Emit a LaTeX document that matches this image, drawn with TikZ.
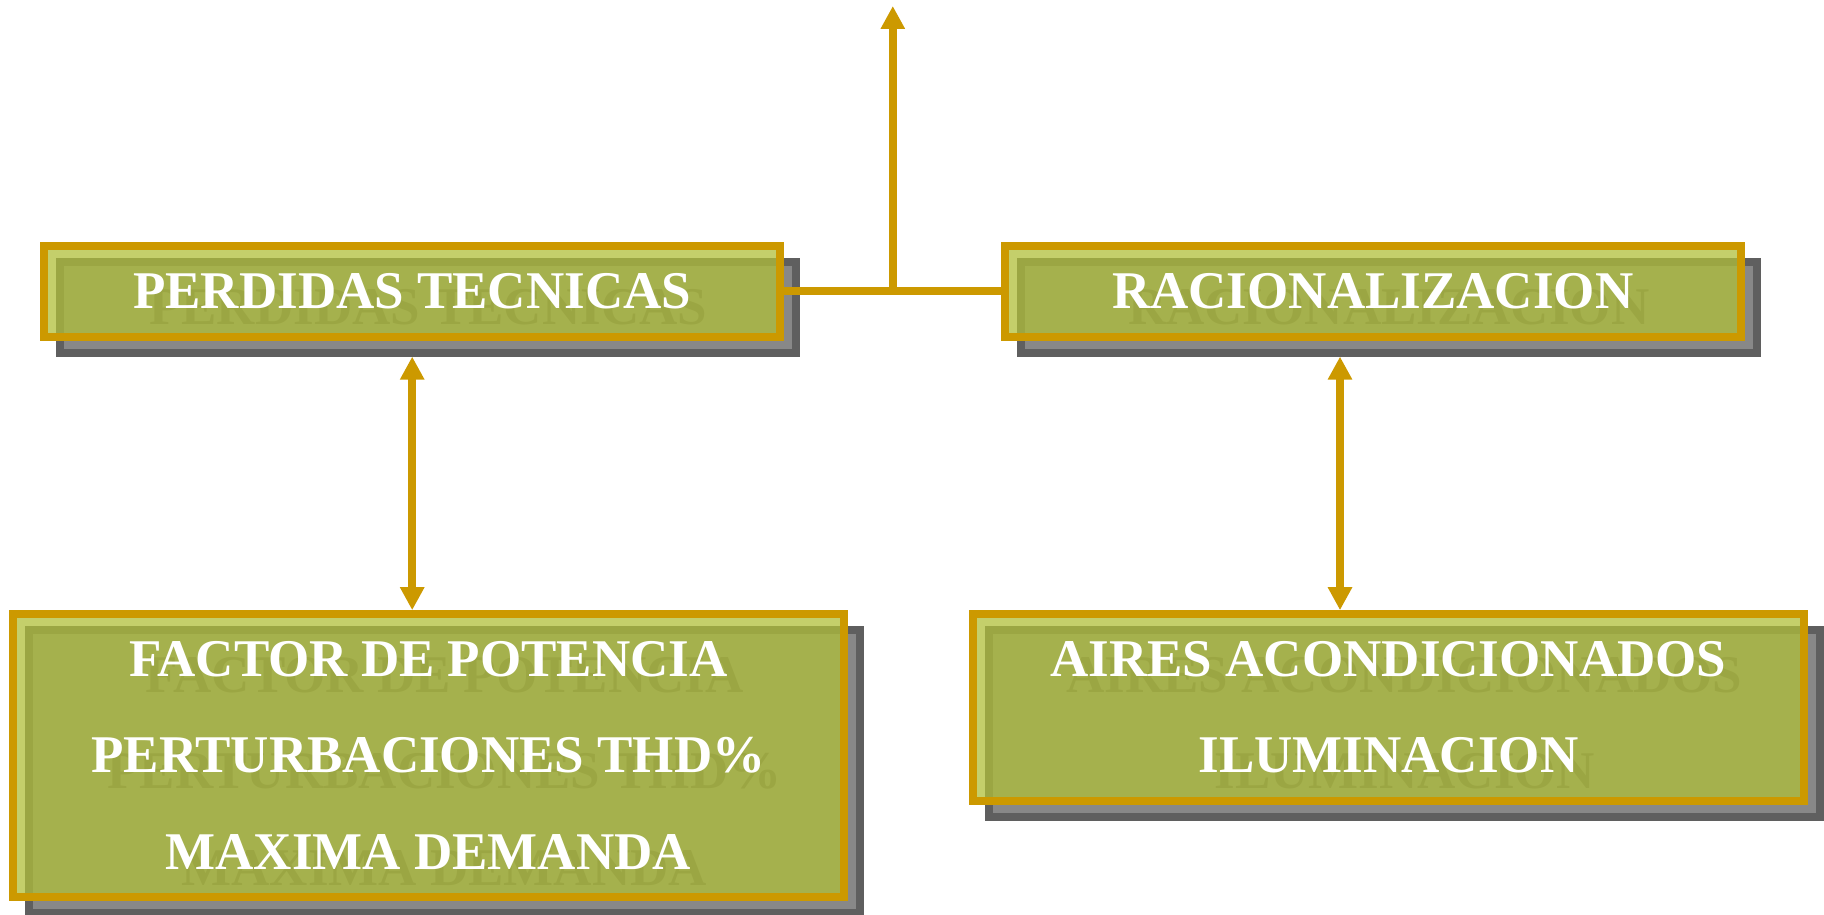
\documentclass[tikz,border=0pt]{standalone}
\usepackage{fontspec}
\setmainfont{Liberation Serif}
\usetikzlibrary{arrows.meta, positioning}

\definecolor{goldline}{HTML}{CC9900}
\definecolor{olivefill}{RGB}{176,191,58}
\definecolor{shadowdark}{HTML}{5F5F5F}
\definecolor{shadowgray}{HTML}{888888}

\begin{document}
\begin{tikzpicture}[
  font=\fontsize{37.7}{68.3}\selectfont\bfseries,
  every node/.style={align=center, inner sep=0pt},
  panel/.style   ={rectangle, draw=goldline, fill=olivefill, fill opacity=0.75, text opacity=1, text=white, line width=2mm},
  panelsh/.style ={rectangle, draw=shadowdark, fill=shadowgray, text=shadowdark, line width=2mm, xshift=4mm, yshift=-4mm},
  shortbox/.style={minimum width=18.4cm, minimum height=2.27cm},
  widebox/.style ={minimum width=20.79cm},
  conn/.style    ={draw=goldline, line width=2mm},
  arr/.style     ={conn, -{Triangle[length=5.75mm, width=5.75mm]}},
  biarr/.style   ={conn, {Triangle[length=5.75mm, width=5.75mm]}-{Triangle[length=5.75mm, width=5.75mm]}}
]
\useasboundingbox (0,0) rectangle (45.6,22.85);

% Shadows (same place, shifted down right)
\node[panelsh, shortbox] (ptsh)   at (10.305,15.57) {PERDIDAS TECNICAS};
\node[panelsh, shortbox] (racsh)  at (34.32,15.57)  {RACIONALIZACION};
\node[panelsh, widebox, minimum height=7.065cm] (fdpsh)  at (10.71,3.9625) {FACTOR DE POTENCIA\\PERTURBACIONES THD\%\\MAXIMA DEMANDA};
\node[panelsh, widebox, minimum height=4.665cm] (airesh) at (34.71,5.1625) {AIRES ACONDICIONADOS\\ILUMINACION};

% Top row
\node[panel, shortbox] (pt)  at (10.305,15.57) {PERDIDAS TECNICAS};
\node[panel, shortbox] (rac) at (34.32,15.57)  {RACIONALIZACION};

% Bottom row
\node[panel, widebox, minimum height=7.065cm] (fdp)  at (10.71,3.9625) {FACTOR DE POTENCIA\\PERTURBACIONES THD\%\\MAXIMA DEMANDA};
\node[panel, widebox, minimum height=4.665cm] (aire) at (34.71,5.1625) {AIRES ACONDICIONADOS\\ILUMINACION};

% Edges
\coordinate (up) at (22.32,22.7);
\draw[conn] (pt.east) -- (rac.west);
\draw[arr] (up |- pt.east) -- (up);
\draw[biarr] (pt |- ptsh.south) -- (pt |- fdp.north);
\draw[biarr] ([xshift=-8.2mm]rac |- racsh.south) -- ([xshift=-8.2mm]rac |- aire.north);
\end{tikzpicture}
\end{document}
